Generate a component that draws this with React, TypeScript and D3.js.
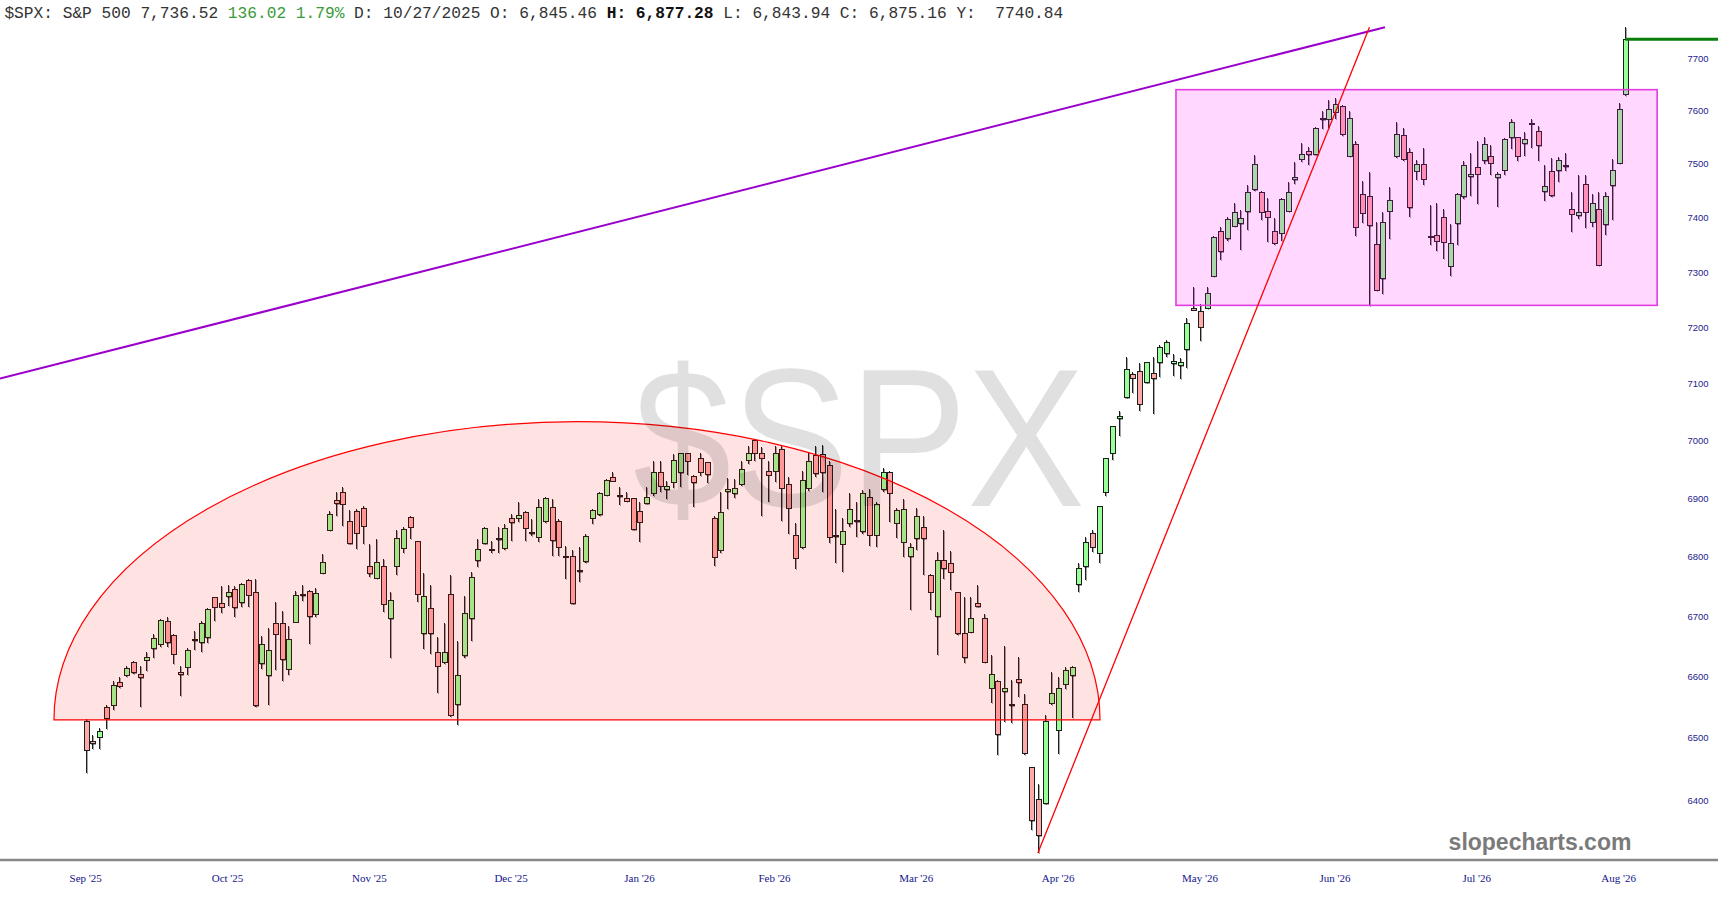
import React from 'react';
import * as d3 from 'd3';

const W = 1718;
const H = 900;

// ---- OHLC data (one entry per trading day, Sep '25 .. Aug '26) ----
const opens = [
  6527, 6494, 6501, 6549, 6553, 6590, 6602, 6623, 6603, 6627, 6646, 6653, 6692, 6668, 6607, 6615, 6660, 6656, 6664, 6731,
  6721, 6733, 6745, 6723, 6760, 6740, 6621, 6601, 6688, 6688, 6612, 6690, 6736, 6741, 6703, 6772, 6845, 6897, 6910, 6860,
  6878, 6882, 6783, 6764, 6783, 6696, 6784, 6815, 6867, 6826, 6671, 6713, 6640, 6624, 6737, 6554, 6634, 6696, 6793, 6822,
  6813, 6829, 6815, 6866, 6866, 6876, 6841, 6833, 6861, 6885, 6860, 6801, 6801, 6777, 6792, 6866, 6872, 6905, 6935, 6905,
  6899, 6899, 6878, 6891, 6909, 6945, 6915, 6928, 6944, 6977, 6938, 6969, 6961, 6866, 6811, 6911, 6908, 6924, 6966, 7000,
  6978, 6947, 6947, 6985, 6924, 6837, 6816, 6917, 6974, 6976, 6957, 6836, 6821, 6856, 6860, 6843, 6901, 6837, 6915, 6945,
  6857, 6825, 6800, 6831, 6850, 6769, 6699, 6794, 6788, 6740, 6672, 6673, 6721, 6696, 6581, 6592, 6575, 6552, 6596, 6554,
  6452, 6401, 6394, 6556, 6512, 6587, 6601, 6753, 6783, 6839, 6806, 6910, 6978, 7038, 7075, 7116, 7122, 7102, 7118, 7137,
  7153, 7135, 7132, 7160, 7235, 7229, 7235, 7293, 7374, 7361, 7384, 7389, 7411, 7452, 7447, 7412, 7374, 7371, 7412, 7470,
  7509, 7523, 7517, 7585, 7584, 7597, 7608, 7514, 7536, 7442, 7439, 7351, 7288, 7412, 7514, 7553, 7522, 7486, 7498, 7366,
  7368, 7401, 7311, 7389, 7439, 7476, 7493, 7506, 7514, 7474, 7488, 7549, 7549, 7538, 7576, 7561, 7448, 7486, 7487, 7497,
  7416, 7404, 7461, 7392, 7416, 7387, 7459, 7501, 7631,
];
const highs = [
  6531, 6504, 6516, 6553, 6592, 6600, 6617, 6625, 6618, 6641, 6671, 6695, 6698, 6671, 6618, 6648, 6676, 6692, 6713, 6733,
  6750, 6752, 6751, 6755, 6763, 6762, 6667, 6680, 6724, 6708, 6684, 6743, 6752, 6744, 6748, 6805, 6878, 6910, 6920, 6880,
  6881, 6887, 6821, 6830, 6796, 6740, 6845, 6850, 6870, 6827, 6773, 6753, 6666, 6689, 6770, 6659, 6734, 6775, 6830, 6850,
  6827, 6850, 6856, 6873, 6894, 6878, 6864, 6899, 6903, 6899, 6864, 6819, 6811, 6816, 6839, 6882, 6910, 6933, 6945, 6920,
  6911, 6901, 6894, 6919, 6965, 6965, 6930, 6977, 6978, 6978, 6941, 6979, 6962, 6870, 6910, 6935, 6933, 6965, 6990, 7002,
  6988, 6965, 6990, 6990, 6936, 6857, 6947, 6980, 6991, 6992, 6965, 6881, 6867, 6909, 6893, 6915, 6916, 6893, 6952, 6947,
  6883, 6899, 6824, 6884, 6870, 6771, 6808, 6845, 6810, 6741, 6732, 6732, 6753, 6703, 6635, 6594, 6650, 6594, 6633, 6572,
  6453, 6426, 6537, 6608, 6600, 6616, 6617, 6790, 6834, 6845, 6886, 6969, 7026, 7051, 7147, 7121, 7137, 7139, 7147, 7169,
  7178, 7153, 7146, 7218, 7273, 7243, 7273, 7366, 7383, 7401, 7427, 7414, 7461, 7516, 7449, 7436, 7399, 7436, 7466, 7503,
  7540, 7532, 7570, 7600, 7620, 7624, 7611, 7600, 7543, 7468, 7484, 7392, 7410, 7456, 7579, 7567, 7529, 7507, 7529, 7424,
  7427, 7416, 7389, 7445, 7506, 7520, 7543, 7550, 7536, 7484, 7549, 7584, 7551, 7559, 7585, 7572, 7497, 7511, 7512, 7521,
  7447, 7479, 7479, 7444, 7447, 7447, 7510, 7614, 7760,
];
const lows = [
  6443, 6482, 6482, 6515, 6545, 6582, 6600, 6604, 6550, 6610, 6630, 6649, 6649, 6621, 6568, 6603, 6644, 6640, 6656, 6692,
  6705, 6717, 6699, 6715, 6716, 6550, 6612, 6553, 6611, 6592, 6602, 6690, 6725, 6654, 6699, 6771, 6844, 6870, 6853, 6821,
  6814, 6821, 6766, 6763, 6707, 6631, 6770, 6806, 6830, 6724, 6646, 6638, 6573, 6620, 6534, 6520, 6631, 6659, 6783, 6821,
  6807, 6806, 6811, 6827, 6859, 6827, 6835, 6825, 6857, 6801, 6801, 6763, 6720, 6758, 6790, 6856, 6869, 6904, 6929, 6888,
  6893, 6846, 6825, 6890, 6904, 6910, 6899, 6918, 6919, 6940, 6885, 6938, 6926, 6785, 6806, 6882, 6901, 6922, 6959, 6965,
  6870, 6893, 6928, 6861, 6839, 6779, 6813, 6913, 6936, 6911, 6824, 6789, 6775, 6850, 6833, 6839, 6819, 6816, 6910, 6859,
  6832, 6799, 6710, 6812, 6769, 6711, 6635, 6763, 6744, 6668, 6623, 6672, 6715, 6622, 6557, 6472, 6526, 6524, 6567, 6472,
  6353, 6316, 6394, 6554, 6474, 6579, 6533, 6740, 6761, 6808, 6789, 6904, 6966, 7008, 7075, 7083, 7051, 7101, 7047, 7111,
  7147, 7113, 7109, 7128, 7231, 7176, 7234, 7292, 7323, 7358, 7383, 7340, 7377, 7450, 7396, 7355, 7350, 7358, 7410, 7462,
  7503, 7497, 7516, 7566, 7567, 7584, 7553, 7512, 7366, 7391, 7239, 7266, 7261, 7361, 7511, 7506, 7401, 7470, 7461, 7349,
  7339, 7325, 7293, 7350, 7435, 7440, 7426, 7500, 7479, 7419, 7479, 7528, 7506, 7514, 7530, 7505, 7431, 7438, 7466, 7486,
  7374, 7398, 7381, 7383, 7311, 7368, 7396, 7500, 7628,
];
const closes = [
  6480, 6490, 6511, 6531, 6586, 6584, 6614, 6606, 6598, 6631, 6663, 6693, 6656, 6637, 6603, 6643, 6661, 6688, 6711, 6715,
  6715, 6740, 6714, 6753, 6735, 6552, 6653, 6643, 6670, 6628, 6662, 6735, 6735, 6699, 6738, 6790, 6872, 6891, 6890, 6822,
  6840, 6852, 6771, 6791, 6720, 6727, 6832, 6847, 6850, 6737, 6733, 6671, 6617, 6640, 6537, 6601, 6704, 6765, 6812, 6848,
  6812, 6831, 6849, 6858, 6870, 6849, 6840, 6885, 6900, 6827, 6816, 6799, 6721, 6775, 6834, 6879, 6909, 6931, 6929, 6903,
  6895, 6846, 6859, 6901, 6945, 6921, 6921, 6966, 6977, 6964, 6927, 6945, 6941, 6799, 6876, 6915, 6916, 6950, 6978, 6978,
  6969, 6940, 6977, 6917, 6883, 6798, 6931, 6964, 6942, 6944, 6833, 6834, 6843, 6880, 6862, 6909, 6837, 6889, 6945, 6909,
  6879, 6880, 6816, 6868, 6831, 6740, 6794, 6780, 6774, 6671, 6631, 6697, 6716, 6624, 6604, 6505, 6580, 6555, 6590, 6475,
  6367, 6343, 6526, 6573, 6581, 6610, 6615, 6781, 6824, 6816, 6886, 6968, 7024, 7042, 7126, 7110, 7064, 7138, 7109, 7165,
  7174, 7139, 7137, 7208, 7231, 7201, 7261, 7363, 7337, 7396, 7410, 7398, 7446, 7499, 7410, 7401, 7353, 7434, 7447, 7474,
  7517, 7517, 7566, 7583, 7602, 7611, 7556, 7586, 7382, 7408, 7385, 7267, 7392, 7432, 7555, 7509, 7418, 7498, 7471, 7364,
  7357, 7355, 7353, 7442, 7497, 7481, 7481, 7536, 7501, 7480, 7545, 7578, 7514, 7545, 7574, 7534, 7458, 7441, 7506, 7495,
  7406, 7409, 7410, 7427, 7313, 7439, 7487, 7603, 7737,
];

const monthLabels = ["Sep '25", "Oct '25", "Nov '25", "Dec '25", "Jan '26", "Feb '26", "Mar '26", "Apr '26", "May '26", "Jun '26", "Jul '26", "Aug '26"];
const monthIndex = [0, 21, 42, 63, 82, 102, 123, 144, 165, 185, 206, 227];
const priceTicks = [6400, 6500, 6600, 6700, 6800, 6900, 7000, 7100, 7200, 7300, 7400, 7500, 7600, 7700];

// annotations in data coordinates (bar index, price)
const arcBase = [-4.7, 150.2, 6529];
const arcTopPrice = 7033;
const boxCorners = [161.45, 232.7, 7640, 7240];
const purpleLine = [-12.69, 7109, 192.4, 7760];
const redLine = [141, 6316, 190.1, 7760];
const lastPrice = 7736.52;

export default function App() {
  const n = closes.length;
  const x = d3.scaleLinear().domain([0, n - 1]).range([85.7, 1625.4]);
  const y = d3.scaleLog().domain([6400, 7700]).range([800, 58.3]);

  const bw = 5;

  const ax0 = x(arcBase[0]);
  const ax1 = x(arcBase[1]);
  const ayb = y(arcBase[2]);
  const ayt = y(arcTopPrice);
  const arcPath = `M${ax0},${ayb} A${(ax1 - ax0) / 2},${ayb - ayt} 0 0 1 ${ax1},${ayb} Z`;

  const candles = d3.range(n).map((i) => {
    const o = opens[i], c = closes[i], h = highs[i], l = lows[i];
    const up = c >= o;
    const cx = Math.round(x(i)) + 0.5;
    const top = y(Math.max(o, c));
    const bot = y(Math.min(o, c));
    const bh = Math.max(1, bot - top);
    return (
      <g key={i}>
        <line x1={cx + 1} x2={cx + 1} y1={y(h) + 1} y2={y(l) + 1} stroke="#000" strokeOpacity={0.35} />
        <line x1={cx} x2={cx} y1={y(h)} y2={y(l)} stroke="#1e1e1e" />
        <rect x={cx - bw / 2 + 1} y={top + 1} width={bw} height={bh} fill="#000" fillOpacity={0.35} />
        <rect x={cx - bw / 2} y={top} width={bw} height={bh} fill={up ? '#99ff99' : '#ffaaaa'} stroke="#1e1e1e" strokeWidth={1} />
      </g>
    );
  });

  return (
    <svg width={W} height={H} style={{ position: 'absolute', left: 0, top: 0, background: '#fff' }}>
      <rect x={0} y={0} width={W} height={H} fill="#fff" />
      <text x={4.4} y={18} fontFamily="'Liberation Mono', 'Courier New', monospace" fontSize={16.2} fill="#333">
        <tspan>$SPX: S&amp;P 500 7,736.52 </tspan>
        <tspan fill="#3a9a3a">136.02 1.79%</tspan>
        <tspan> D: 10/27/2025 O: 6,845.46 </tspan>
        <tspan fontWeight="bold" fill="#111">H: 6,877.28</tspan>
        <tspan xmlSpace="preserve"> L: 6,843.94 C: 6,875.16 Y:{'\u00a0'} 7740.84</tspan>
      </text>

      <g shapeRendering="crispEdges">{candles}</g>

      <path d={arcPath} fill="#ff0000" fillOpacity={0.11} stroke="#ff0000" strokeWidth={1.2} />
      <rect
        x={x(boxCorners[0])}
        y={y(boxCorners[2])}
        width={x(boxCorners[1]) - x(boxCorners[0])}
        height={y(boxCorners[3]) - y(boxCorners[2])}
        fill="#ff00ff"
        fillOpacity={0.155}
        stroke="#e23ce2"
        strokeWidth={1.6}
      />
      <line x1={x(purpleLine[0])} y1={y(purpleLine[1])} x2={x(purpleLine[2])} y2={y(purpleLine[3])} stroke="#9a00cc" strokeWidth={2} />
      <line x1={x(redLine[0])} y1={y(redLine[1])} x2={x(redLine[2])} y2={y(redLine[3])} stroke="#ff0000" strokeWidth={1.3} />
      <line x1={x(n - 1)} y1={y(lastPrice)} x2={W} y2={y(lastPrice)} stroke="#0b7d0b" strokeWidth={3} />

      <text x={859} y={506} textAnchor="middle" fontFamily="'Liberation Sans', Arial, sans-serif" fontSize={197} textLength={452} lengthAdjust="spacingAndGlyphs" fill="#000" fillOpacity={0.12}>$SPX</text>

      <text x={1540} y={850} textAnchor="middle" fontFamily="'Liberation Sans', Arial, sans-serif" fontWeight="bold" fontSize={23} fill="#7a7a7a">slopecharts.com</text>

      <line x1={0} x2={W} y1={860} y2={860} stroke="#888" strokeWidth={2.5} />

      {priceTicks.map((t) => (
        <text key={t} x={1698} y={y(t)} textAnchor="middle" dominantBaseline="central" fontFamily="'Liberation Sans', Arial, sans-serif" fontSize={9.5} fill="#24248c">{t}</text>
      ))}
      {monthLabels.map((m, i) => (
        <text key={m} x={x(monthIndex[i])} y={882} textAnchor="middle" fontFamily="'Liberation Serif', 'Times New Roman', serif" fontSize={11} fill="#14148a">{m}</text>
      ))}
    </svg>
  );
}
